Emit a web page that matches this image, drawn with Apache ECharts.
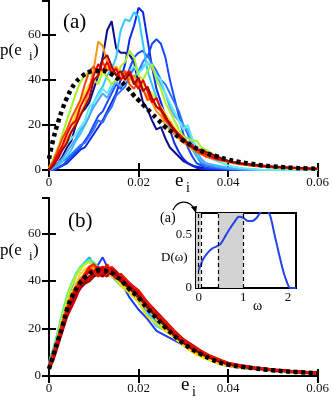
<!DOCTYPE html>
<html>
<head>
<meta charset="utf-8">
<script src="https://cdn.jsdelivr.net/npm/echarts@6/dist/echarts.min.js"></script>
<style>
  html, body { margin: 0; padding: 0; background: #fff; }
  #chart { width: 332px; height: 402px; }
</style>
</head>
<body>
<div id="chart"></div>
<script>
// ---- panel (a): energy distributions before collapse ----
var xsA = [0, 0.001, 0.002, 0.003, 0.004, 0.005, 0.006, 0.007, 0.008, 0.009,
  0.010, 0.011, 0.012, 0.013, 0.014, 0.015, 0.016, 0.017, 0.018, 0.019,
  0.020, 0.021, 0.022, 0.023, 0.024, 0.025, 0.026, 0.027, 0.028, 0.029,
  0.030, 0.031, 0.032, 0.033, 0.034, 0.035,
  0.0375, 0.040, 0.0425, 0.045, 0.0475, 0.050, 0.0525, 0.055, 0.0575, 0.060]

var colorsA = ['#0c0c8c', '#0a28f0', '#1848ff', '#3070ff', '#30c8ff', '#50a8ff',
  '#60ecf8', '#a8f028', '#f4e020', '#ff9410', '#ff4800', '#ee0000', '#a80000']

var curvesA = [
  [0, 1, 3, 6, 10, 13, 20, 25, 27, 30, 36, 42, 50, 62, 66, 54, 52, 52, 51, 48,
    38, 30, 27, 22, 18, 19, 14, 10, 8, 6, 4, 3, 2, 1.5, 1, 0.8, 0.5, 0.3, 0.2, 0.1, 0, 0, 0, 0, 0, 0],
  [0, 0, 1, 2, 3, 5, 7, 9, 10, 13, 16, 19, 22, 26, 30, 34, 40, 47, 58, 64,
    72, 70, 58, 46, 36, 30, 24, 18, 12, 8, 5, 3, 2, 1, 0.5, 0.3, 0.2, 0.1, 0, 0, 0, 0, 0, 0, 0, 0],
  [0, 0, 1, 2, 4, 6, 8, 10, 13, 16, 20, 24, 26, 30, 34, 38, 36, 40, 45, 50,
    52, 53, 50, 56, 58, 56, 50, 40, 32, 24, 16, 10, 6, 3, 2, 1, 0.5, 0.2, 0, 0, 0, 0, 0, 0, 0, 0],
  [0, 1, 2, 4, 5, 7, 9, 11, 12, 15, 18, 22, 21, 25, 28, 33, 35, 37, 42, 45,
    44, 48, 51, 47, 44, 40, 38, 34, 30, 26, 20, 16, 10, 6, 3, 2, 1, 0.5, 0.2, 0, 0, 0, 0, 0, 0, 0],
  [0, 1, 2, 4, 6, 9, 13, 16, 20, 24, 30, 34, 37, 42, 45, 50, 62, 67, 66, 70,
    68, 56, 44, 38, 32, 27, 22, 19, 16, 14, 15, 12, 9, 6, 4, 3, 2, 1, 0.5, 0.2, 0, 0, 0, 0, 0, 0],
  [0, 1, 3, 5, 8, 11, 14, 18, 20, 24, 28, 31, 34, 32, 36, 39, 37, 40, 43, 41,
    44, 46, 48, 45, 42, 38, 34, 28, 24, 22, 20, 18, 12, 8, 5, 3, 1.5, 0.8, 0.3, 0, 0, 0, 0, 0, 0, 0],
  [1, 3, 6, 9, 12, 14, 16, 19, 22, 28, 30, 33, 36, 34, 38, 40, 42, 40, 44, 46,
    43, 45, 48, 46, 42, 40, 34, 30, 26, 22, 18, 20, 14, 10, 8, 6, 4, 2, 1, 0.5, 0, 0, 0, 0, 0, 0],
  [1, 5, 10, 16, 22, 28, 34, 39, 42, 44, 40, 38, 44, 41, 38, 40, 46, 48, 53, 50,
    42, 40, 44, 47, 40, 36, 30, 26, 22, 18, 15, 14, 13, 13, 10, 9, 6, 4, 3, 2, 1.5, 1, 0.8, 0.5, 0.3, 0.2],
  [1, 3, 7, 11, 16, 20, 25, 30, 34, 38, 40, 42, 44, 46, 44, 42, 43, 40, 41, 38,
    40, 38, 36, 34, 31, 28, 25, 22, 19, 16, 14, 12, 10, 9, 8, 7, 5, 4, 3, 2, 1.5, 1.2, 1, 0.7, 0.5, 0.3],
  [1, 3, 6, 10, 14, 17, 21, 25, 29, 36, 45, 57, 55, 48, 44, 46, 42, 44, 40, 42,
    38, 35, 33, 30, 26, 24, 20, 18, 16, 14, 12, 11, 9, 8, 7, 6, 5, 4, 3, 2.5, 2, 1.5, 1.2, 1, 0.7, 0.5],
  [1, 4, 9, 14, 18, 23, 27, 31, 38, 44, 46, 42, 48, 44, 46, 42, 40, 44, 38, 36,
    40, 36, 31, 32, 28, 26, 22, 20, 17, 15, 13, 11, 10, 8, 7, 6, 4.5, 3.5, 2.5, 2, 1.5, 1.2, 1, 0.8, 0.5, 0.4],
  [0, 3, 7, 11, 16, 20, 22, 28, 32, 36, 42, 47, 44, 48, 43, 45, 40, 42, 44, 39,
    36, 40, 35, 30, 32, 27, 23, 21, 18, 16, 14, 12, 11, 9, 8, 7, 5, 4, 3, 2.3, 1.8, 1.4, 1.1, 0.9, 0.6, 0.5],
  [0, 2, 5, 9, 12, 17, 20, 24, 28, 32, 40, 42, 49, 51, 46, 42, 44, 40, 43, 38,
    41, 35, 37, 32, 28, 27, 24, 20, 18, 15, 13, 12, 10, 9, 9, 8, 6, 4, 3, 2.5, 2, 1.5, 1.2, 1, 0.8, 0.6]
]

var dashA = [5, 14, 21, 27, 32, 36, 39, 41, 42.5, 43.5, 44, 44, 44, 43.5, 42.5, 41, 39.5, 37.5, 35.5, 33,
  31, 29, 27, 25, 23, 21, 19, 17.5, 16, 14.5, 13, 11.8, 10.6, 9.5, 8.5, 7.6,
  6, 4.6, 3.6, 2.8, 2.1, 1.6, 1.2, 0.9, 0.7, 0.5]

// ---- panel (b): rescaled distributions ----
var xsB = [0, 0.001, 0.002, 0.003, 0.004, 0.005, 0.006, 0.007, 0.008, 0.009,
  0.010, 0.011, 0.012, 0.013, 0.014, 0.015, 0.016,
  0.018, 0.020, 0.022, 0.024, 0.026, 0.028, 0.030, 0.032, 0.034, 0.036, 0.038, 0.040,
  0.043, 0.046, 0.050, 0.055, 0.060]

var colorsB = ['#1a3cff', '#2aa0ff', '#30e0f0', '#60f080', '#c0f020', '#ffd800',
  '#ff8a00', '#ff2000', '#dd0000', '#b00000', '#8a0000', '#c80000', '#e81000']

var curvesB = [
  [4, 10, 16, 23, 29, 34, 38, 41, 43, 44, 45, 47, 50, 46, 43, 41, 40,
    33, 28, 24, 19, 17, 15, 13, 10.5, 8.5, 6.8, 5.2, 4.2, 3.4, 2.8, 2, 1.4, 1],
  [5, 11, 18, 25, 31, 37, 42, 45, 48, 50, 47, 45, 44, 43, 42, 41, 39,
    36, 32, 27, 23, 20, 16, 13, 11, 8.5, 7, 5.5, 4.5, 3.6, 2.9, 2.1, 1.5, 1.1],
  [6, 12, 19, 26, 32, 38, 43, 46, 48, 49, 46, 44, 43, 44, 42, 40, 38,
    35, 31, 26, 21, 19, 16.5, 13.5, 11, 9, 7, 5.6, 4.6, 3.7, 3, 2.2, 1.6, 1.1],
  [5, 11, 19, 27, 34, 39, 43, 46, 47, 49, 48, 46, 45, 43, 42, 40, 39,
    35, 32, 28, 24, 20, 16, 13, 10.5, 8.5, 7, 5.5, 4.4, 3.6, 3, 2.2, 1.6, 1.2],
  [4, 10, 17, 25, 32, 38, 42, 45, 47, 48, 46, 45, 44, 45, 43, 41, 39,
    36, 33, 29, 24, 20, 16.5, 13, 10.5, 8.8, 7.2, 5.6, 4.4, 3.5, 2.9, 2.1, 1.5, 1.1],
  [4, 10, 16, 23, 30, 35, 39, 43, 45, 46, 45, 44, 45, 43, 42, 41, 38,
    35, 31, 25, 22, 19, 16, 13, 10, 8, 6.5, 5, 4.2, 3.5, 3, 2.2, 1.6, 1.2],
  [4, 9, 15, 22, 29, 34, 38, 41, 43, 45, 46, 44, 44, 45, 43, 42, 40,
    37, 33, 28, 25, 21, 17, 14, 11, 9, 7.5, 6, 4.8, 3.9, 3.2, 2.4, 1.7, 1.2],
  [3, 8, 14, 20, 26, 32, 36, 39, 43, 46, 47, 45, 43, 44, 46, 44, 41,
    38, 34, 29, 25, 22, 18.5, 15, 12, 10, 8, 6.5, 5, 4, 3.3, 2.5, 1.8, 1.2],
  [3, 8, 14, 21, 27, 31, 36, 40, 42, 44, 43, 45, 46, 44, 43, 42, 41,
    37, 33, 30, 26, 21, 17.5, 14.5, 12, 9.5, 7.8, 6.2, 5, 4, 3.3, 2.5, 1.8, 1.2],
  [3, 8, 14, 20, 27, 32, 35, 38, 40, 42, 43, 44, 45, 46, 44, 43, 42,
    38, 34, 30, 26, 22, 18, 14.5, 12.5, 10, 8, 6.5, 5.2, 4.2, 3.4, 2.5, 1.8, 1.2],
  [4, 9, 15, 21, 26, 30, 34, 37, 39, 40, 42, 43, 42, 44, 45, 43, 40,
    37, 34, 29, 25, 21, 17, 14, 11.5, 9.5, 7.8, 6.2, 5, 4.1, 3.3, 2.5, 1.8, 1.2],
  [3, 7, 13, 19, 25, 29, 33, 38, 41, 40, 44, 46, 43, 42, 45, 44, 42,
    39, 35, 31, 27, 23, 19, 15.5, 13, 10.5, 8.3, 6.8, 5.4, 4.3, 3.5, 2.6, 1.9, 1.3],
  [4, 10, 16, 22, 28, 33, 37, 39, 42, 45, 44, 42, 44, 47, 43, 41, 43,
    39, 36, 31, 26, 23, 18.5, 15, 12.5, 10.5, 8.5, 7, 5.5, 4.4, 3.6, 2.7, 1.9, 1.3]
]

var dashB = [3, 9, 15, 21, 28, 33, 36.5, 39.5, 41.5, 43, 44, 44.5, 44.5, 44, 43.5, 42, 40.5,
  36.5, 33, 28.5, 24.5, 20.5, 17, 13.8, 11.2, 9.2, 7.3, 5.8, 4.8, 3.9, 3.2, 2.4, 1.7, 1.2]

// ---- inset: density of states ----
var omega = [0, 0.05, 0.1, 0.2, 0.3, 0.4, 0.5, 0.6, 0.7, 0.8, 0.9, 1.0, 1.1, 1.2,
  1.3, 1.4, 1.5, 1.6, 1.7, 1.8, 1.9, 2.0, 2.05, 2.18]
var dos = [0.17, 0.22, 0.27, 0.33, 0.37, 0.39, 0.42, 0.49, 0.56, 0.62, 0.67, 0.66, 0.63, 0.63,
  0.66, 0.72, 0.74, 0.68, 0.50, 0.32, 0.15, 0.03, 0, 0]
var bandsW = [[-0.06, 0.05], [0.43, 1.0]]
var cutsW = [-0.02, 0.05, 0.43, 1.0]

var serif = 'Liberation Serif'

function zip(xs, ys) {
  return ys.map(function (y, i) { return [xs[i], y] })
}

function mainX(gi, labels) {
  return {
    gridIndex: gi, type: 'value', min: 0, max: 0.06, interval: 0.02,
    position: labels ? 'bottom' : 'top',
    axisLine: { lineStyle: { color: '#000', width: 2 } },
    axisTick: { inside: true, length: 7, lineStyle: { color: '#000', width: 2 } },
    axisLabel: {
      show: labels, margin: 6, fontFamily: serif, fontSize: 13, color: '#111',
      formatter: function (v) { return v === 0 ? '0' : v.toFixed(2) }
    },
    splitLine: { show: false }
  }
}

function mainY(gi, labels) {
  return {
    gridIndex: gi, type: 'value', min: 0, max: 75, interval: 20,
    position: labels ? 'left' : 'right',
    axisLine: { show: true, lineStyle: { color: '#000', width: 2 } },
    axisTick: { show: true, inside: true, length: 7, lineStyle: { color: '#000', width: 2 } },
    axisLabel: { show: labels, margin: 8, fontFamily: serif, fontSize: 13, color: '#111', showMaxLabel: false },
    splitLine: { show: false }
  }
}

var series = []

curvesA.forEach(function (c, i) {
  series.push({
    type: 'line', xAxisIndex: 0, yAxisIndex: 0, data: zip(xsA, c),
    showSymbol: false, lineStyle: { color: colorsA[i], width: 2 }, silent: true
  })
})
series.push({
  type: 'line', xAxisIndex: 0, yAxisIndex: 0, data: zip(xsA, dashA), smooth: true,
  showSymbol: false, lineStyle: { color: '#000', width: 4.5, type: [4, 3.5] }, z: 5
})

curvesB.forEach(function (c, i) {
  series.push({
    type: 'line', xAxisIndex: 2, yAxisIndex: 2, data: zip(xsB, c),
    showSymbol: false, lineStyle: { color: colorsB[i], width: i > 6 ? 2.6 : 2 }, silent: true
  })
})
series.push({
  type: 'line', xAxisIndex: 2, yAxisIndex: 2, data: zip(xsB, dashB), smooth: true,
  showSymbol: false, lineStyle: { color: '#000', width: 4.5, type: [4, 3.5] }, z: 5
})

series.push({
  type: 'line', xAxisIndex: 4, yAxisIndex: 4, data: zip(omega, dos), smooth: 0.3,
  showSymbol: false, lineStyle: { color: '#2244ee', width: 2 }, z: 4,
  markArea: {
    silent: true, itemStyle: { color: '#d3d3d3' },
    data: bandsW.map(function (b) { return [{ xAxis: b[0] }, { xAxis: b[1] }] })
  },
  markLine: {
    silent: true, symbol: 'none', label: { show: false },
    lineStyle: { color: '#000', width: 1.2, type: [4, 3] },
    data: cutsW.map(function (v) { return { xAxis: v } })
  }
})

var chart = echarts.init(document.getElementById('chart'))
chart.setOption({
  animation: false,
  backgroundColor: '#fff',
  grid: [
    { left: 49, right: 10.5, top: 1, height: 169 },
    { left: 49, right: 10.5, top: 198, height: 178 },
    { left: 196, width: 100, top: 213, height: 75, show: true, borderColor: '#000', borderWidth: 2, backgroundColor: 'transparent' }
  ],
  xAxis: [
    mainX(0, true), mainX(0, false), mainX(1, true), mainX(1, false),
    {
      gridIndex: 2, type: 'value', min: -0.06, max: 2.18,
      axisLine: { show: false }, axisTick: { show: false }, splitLine: { show: false },
      axisLabel: { customValues: [0, 1, 2], margin: 3, fontFamily: serif, fontSize: 13, color: '#111' }
    }
  ],
  yAxis: [
    mainY(0, true), mainY(0, false), mainY(1, true), mainY(1, false),
    {
      gridIndex: 2, type: 'value', min: 0, max: 0.705,
      axisLine: { show: false }, axisTick: { show: false }, splitLine: { show: false },
      axisLabel: {
        customValues: [0, 0.5], margin: 4, fontFamily: serif, fontSize: 13, color: '#111',
        formatter: function (v) { return v === 0 ? '0' : '0.5' }
      }
    }
  ],
  series: series,
  graphic: [
    { type: 'text', x: 63, y: 22, style: { text: '(a)', font: '21px "Liberation Serif"', fill: '#000', verticalAlign: 'middle' } },
    { type: 'text', x: 68, y: 221, style: { text: '(b)', font: '21px "Liberation Serif"', fill: '#000', verticalAlign: 'middle' } },
    // y titles
    { type: 'text', x: 0, y: 51, style: { text: 'p(e', font: '17px "Liberation Serif"', fill: '#000', verticalAlign: 'middle' } },
    { type: 'text', x: 29, y: 57, style: { text: 'i', font: '13px "Liberation Serif"', fill: '#000', verticalAlign: 'middle' } },
    { type: 'text', x: 33, y: 51, style: { text: ')', font: '17px "Liberation Serif"', fill: '#000', verticalAlign: 'middle' } },
    { type: 'text', x: 0, y: 251, style: { text: 'p(e', font: '17px "Liberation Serif"', fill: '#000', verticalAlign: 'middle' } },
    { type: 'text', x: 29, y: 257, style: { text: 'i', font: '13px "Liberation Serif"', fill: '#000', verticalAlign: 'middle' } },
    { type: 'text', x: 33, y: 251, style: { text: ')', font: '17px "Liberation Serif"', fill: '#000', verticalAlign: 'middle' } },
    // x titles
    { type: 'text', x: 175, y: 181, style: { text: 'e', font: '19px "Liberation Serif"', fill: '#000', verticalAlign: 'middle' } },
    { type: 'text', x: 186, y: 188, style: { text: 'i', font: '14px "Liberation Serif"', fill: '#000', verticalAlign: 'middle' } },
    { type: 'text', x: 181, y: 385, style: { text: 'e', font: '19px "Liberation Serif"', fill: '#000', verticalAlign: 'middle' } },
    { type: 'text', x: 192, y: 392, style: { text: 'i', font: '14px "Liberation Serif"', fill: '#000', verticalAlign: 'middle' } },
    // inset labels
    { type: 'text', x: 160, y: 218, style: { text: '(a)', font: '14px "Liberation Serif"', fill: '#000', verticalAlign: 'middle' } },
    { type: 'text', x: 161, y: 258, style: { text: 'D(ω)', font: '13px "Liberation Serif"', fill: '#000', verticalAlign: 'middle' } },
    { type: 'text', x: 222, y: 270, style: { text: '(b)', font: '14px "Liberation Serif"', fill: '#000', verticalAlign: 'middle' } },
    { type: 'text', x: 253, y: 306, style: { text: 'ω', font: '14px "Liberation Serif"', fill: '#000', verticalAlign: 'middle' } },
    // curved arrow from (a) to the low-frequency band
    { type: 'bezierCurve', shape: { x1: 173, y1: 210, cpx1: 178, cpy1: 199, cpx2: 190, cpy2: 200, x2: 195, y2: 210 },
      style: { stroke: '#000', lineWidth: 1.2, fill: null } },
    { type: 'polygon', shape: { points: [[191, 207], [197, 206], [196, 213]] }, style: { fill: '#000' } }
  ]
})
</script>
</body>
</html>
